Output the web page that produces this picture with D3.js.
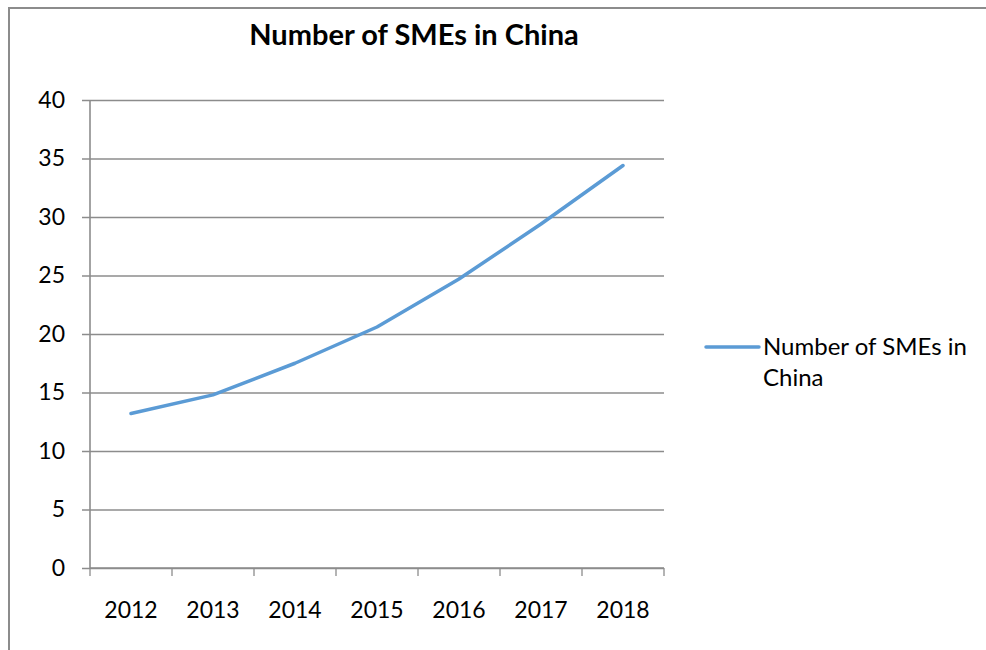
<!DOCTYPE html>
<html>
<head>
<meta charset="utf-8">
<script src="https://cdn.jsdelivr.net/npm/d3@7/dist/d3.min.js"></script>
<style>
  html, body { margin: 0; padding: 0; background: #fff; }
  svg { display: block; }
  text { font-family: Lato, "Open Sans", sans-serif; fill: #000; }
</style>
</head>
<body>
<svg id="chart" width="986" height="650"></svg>
<script>
// Number of SMEs in China, by year
const years = ["2012", "2013", "2014", "2015", "2016", "2017", "2018"];
const smeCounts = [13.2, 14.8, 17.5, 20.6, 24.7, 29.4, 34.4];
const yTicks = [0, 5, 10, 15, 20, 25, 30, 35, 40];
const seriesName = "Number of SMEs in China";
const legendLines = ["Number of SMEs in", "China"];

const svg = d3.select("#chart");
const plot = { left: 90, right: 664, top: 100, bottom: 568 };

// Outer frame
svg.append("path")
  .attr("d", "M9,650 V8 H986")
  .attr("fill", "none")
  .attr("stroke", "#8c8c8c")
  .attr("stroke-width", 2);

// Title
svg.append("text")
  .attr("x", 414).attr("y", 45)
  .attr("text-anchor", "middle")
  .style("font-size", "29px")
  .style("font-weight", "bold")
  .text(seriesName);

const x = d3.scaleBand().domain(years).range([plot.left, plot.right]).padding(0);
const y = d3.scaleLinear().domain([0, 40]).range([plot.bottom, plot.top]);

// Horizontal gridlines with left tick marks
const yAxis = d3.axisLeft(y)
  .tickValues(yTicks)
  .tickSize(-(plot.right - plot.left))
  .tickFormat(d3.format("d"))
  .tickPadding(25);
const gy = svg.append("g").attr("transform", `translate(${plot.left},0)`).call(yAxis);
gy.select(".domain").remove();
gy.selectAll(".tick line")
  .attr("x1", -8)
  .attr("stroke", "#8c8c8c")
  .attr("stroke-width", 1.3);
gy.selectAll(".tick text")
  .style("font-size", "23px")
  .attr("font-family", null);

// Vertical axis line
svg.append("line")
  .attr("x1", plot.left).attr("x2", plot.left)
  .attr("y1", plot.top).attr("y2", plot.bottom)
  .attr("stroke", "#8c8c8c").attr("stroke-width", 1.6);

// Category axis: ticks on band boundaries
const gx = svg.append("g").attr("transform", `translate(0,${plot.bottom})`);
gx.append("line")
  .attr("x1", plot.left).attr("x2", plot.right)
  .attr("stroke", "#8c8c8c").attr("stroke-width", 1.6);
const boundaries = years.map(d => x(d)).concat([x(years[years.length - 1]) + x.bandwidth()]);
gx.selectAll("line.tick")
  .data(boundaries)
  .join("line")
  .attr("class", "tick")
  .attr("x1", d => d).attr("x2", d => d)
  .attr("y1", 0).attr("y2", 8)
  .attr("stroke", "#8c8c8c").attr("stroke-width", 1.3);
gx.selectAll("text")
  .data(years)
  .join("text")
  .attr("x", d => x(d) + x.bandwidth() / 2)
  .attr("y", 50)
  .attr("text-anchor", "middle")
  .style("font-size", "23px")
  .text(d => d);

// Series line
const line = d3.line()
  .x((d, i) => x(years[i]) + x.bandwidth() / 2)
  .y(d => y(d));
svg.append("path")
  .datum(smeCounts)
  .attr("d", line)
  .attr("fill", "none")
  .attr("stroke", "#5b9bd5")
  .attr("stroke-width", 3.5)
  .attr("stroke-linejoin", "round")
  .attr("stroke-linecap", "round");

// Legend
const legend = svg.append("g").attr("transform", "translate(706,347)");
legend.append("line")
  .attr("x1", 0).attr("x2", 53)
  .attr("stroke", "#5b9bd5").attr("stroke-width", 3.5)
  .attr("stroke-linecap", "round");
legend.selectAll("text")
  .data(legendLines)
  .join("text")
  .attr("x", 57)
  .attr("y", (d, i) => 8 + i * 31)
  .style("font-size", "24px")
  .text(d => d);
</script>
</body>
</html>
